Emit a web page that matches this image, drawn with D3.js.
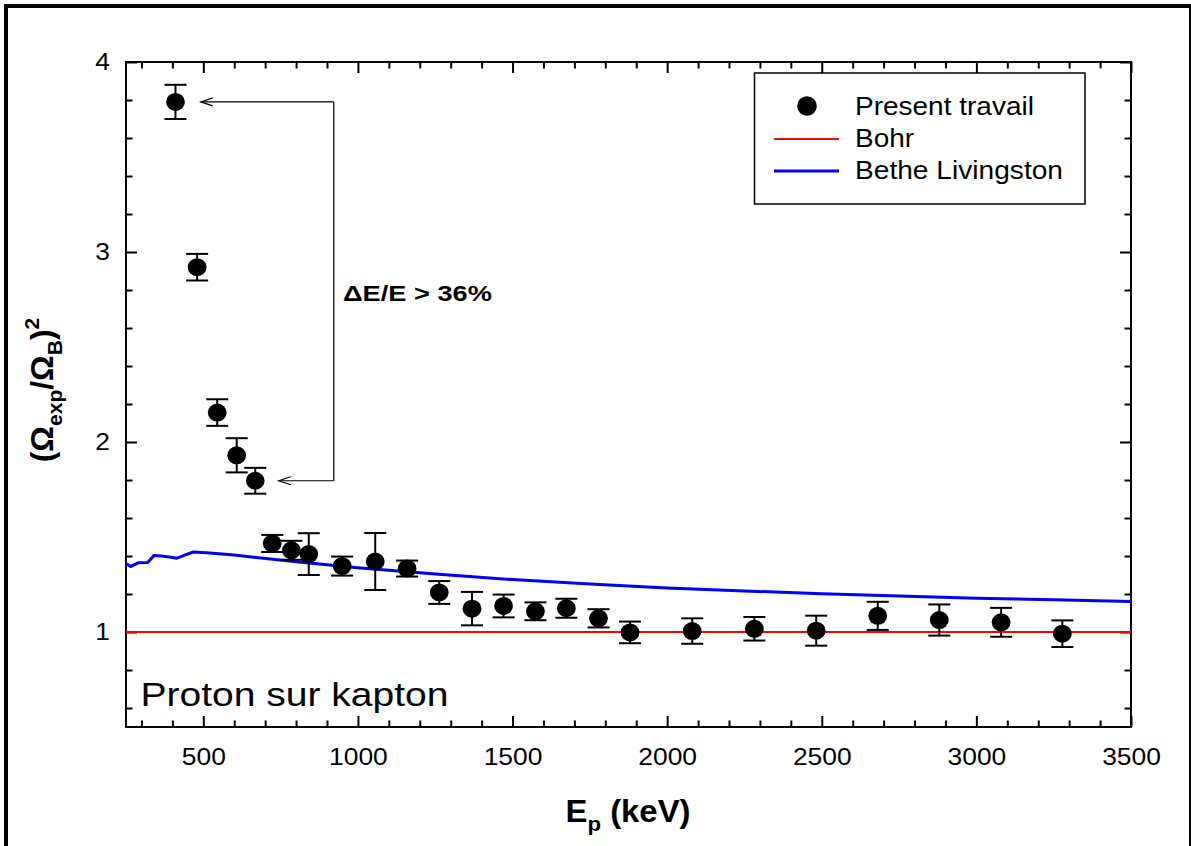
<!DOCTYPE html>
<html>
<head>
<meta charset="utf-8">
<script src="https://cdn.jsdelivr.net/npm/d3@7/dist/d3.min.js"></script>
<style>
  html, body { margin: 0; padding: 0; background: #fff; }
  svg { display: block; font-family: "Liberation Sans", Arial, Helvetica, sans-serif; }
</style>
</head>
<body>
<svg id="chart" width="1191" height="846"></svg>
<script>
// ---------- data ----------
const energy = [410, 480, 545, 608, 668, 723, 785, 841, 949, 1056, 1159, 1263, 1369, 1471, 1574, 1674, 1778, 1880, 2081, 2282, 2482, 2681, 2880, 3080, 3278];
const ratio  = [3.79, 2.92, 2.155, 1.93, 1.796, 1.466, 1.43, 1.41, 1.347, 1.371, 1.334, 1.208, 1.123, 1.137, 1.109, 1.125, 1.072, 0.998, 1.005, 1.017, 1.007, 1.085, 1.063, 1.051, 0.991];
const errs   = [0.09, 0.07, 0.07, 0.09, 0.068, 0.045, 0.05, 0.11, 0.05, 0.15, 0.042, 0.06, 0.088, 0.06, 0.047, 0.05, 0.048, 0.057, 0.067, 0.062, 0.079, 0.074, 0.082, 0.076, 0.07];

const betheE = [250, 265, 290, 320, 340, 365, 390, 414, 440, 467, 510, 600, 800, 1000, 1250, 1500, 1750, 2000, 2250, 2500, 2750, 3000, 3250, 3500];
const betheV = [1.36, 1.345, 1.364, 1.366, 1.402, 1.40, 1.395, 1.388, 1.405, 1.421, 1.417, 1.405, 1.37, 1.338, 1.305, 1.276, 1.252, 1.232, 1.216, 1.201, 1.19, 1.178, 1.17, 1.16];

const bohrE = [250, 3500];
const bohrV = [1, 1];

const xMajor = [500, 1000, 1500, 2000, 2500, 3000, 3500];
const xMinor = d3.range(300, 3500, 100).filter(v => v % 500 !== 0);
const yMajor = [1, 2, 3, 4];
const yMinor = [0.6, 0.8, 1.2, 1.4, 1.6, 1.8, 2.2, 2.4, 2.6, 2.8, 3.2, 3.4, 3.6, 3.8];

const legendLabels = ["Present travail", "Bohr", "Bethe Livingston"];
const annotationText = "\u0394E/E > 36%";
const panelText = "Proton sur kapton";
// annotation anchor values (data units)
const arrowTopY = 3.79, arrowBotY = 1.796, arrowTipTop = 492, arrowTipBot = 744, arrowX = 922;

// ---------- layout ----------
const svg = d3.select("#chart");
const L = 126, R = 1131, T = 62, B = 727;
const x = d3.scaleLinear().domain([250, 3500]).range([L, R]);
const y = d3.scaleLinear().domain([0.5, 4]).range([B, T]);

// outer border
svg.append("rect").attr("x", 6).attr("y", 6).attr("width", 1185).attr("height", 900)
  .attr("fill", "none").attr("stroke", "#000").attr("stroke-width", 4);

// clip
svg.append("clipPath").attr("id", "clip").append("rect")
  .attr("x", L).attr("y", T).attr("width", R - L).attr("height", B - T);

function styleAxis(g) {
  g.select(".domain").remove();
  g.selectAll(".tick line").attr("stroke", "#000").attr("stroke-width", 2);
}

// axes: major + minor, all four sides, inward ticks
const gxb = svg.append("g").attr("transform", `translate(0,${B})`)
  .call(d3.axisBottom(x).tickValues(xMajor).tickSize(-11).tickPadding(21).tickFormat(d3.format("d")));
styleAxis(gxb);
gxb.selectAll("text").attr("font-size", 24).attr("fill", "#000")
  .attr("font-family", "Liberation Sans, Arial, sans-serif")
  .attr("transform", "scale(1.1,1)");

const gxbm = svg.append("g").attr("transform", `translate(0,${B})`)
  .call(d3.axisBottom(x).tickValues(xMinor).tickSize(-6.5).tickFormat(""));
styleAxis(gxbm);

const gxt = svg.append("g").attr("transform", `translate(0,${T})`)
  .call(d3.axisTop(x).tickValues(xMajor).tickSize(-11).tickFormat(""));
styleAxis(gxt);
const gxtm = svg.append("g").attr("transform", `translate(0,${T})`)
  .call(d3.axisTop(x).tickValues(xMinor).tickSize(-6.5).tickFormat(""));
styleAxis(gxtm);

const gyl = svg.append("g").attr("transform", `translate(${L},0)`)
  .call(d3.axisLeft(y).tickValues(yMajor).tickSize(-11).tickPadding(16).tickFormat(d3.format("d")));
styleAxis(gyl);
gyl.selectAll("text").attr("font-size", 24).attr("fill", "#000")
  .attr("font-family", "Liberation Sans, Arial, sans-serif")
  .attr("x", 0).attr("transform", "translate(-16,0) scale(1.1,1)");

const gylm = svg.append("g").attr("transform", `translate(${L},0)`)
  .call(d3.axisLeft(y).tickValues(yMinor).tickSize(-6.5).tickFormat(""));
styleAxis(gylm);
const gyr = svg.append("g").attr("transform", `translate(${R},0)`)
  .call(d3.axisRight(y).tickValues(yMajor).tickSize(-11).tickFormat(""));
styleAxis(gyr);
const gyrm = svg.append("g").attr("transform", `translate(${R},0)`)
  .call(d3.axisRight(y).tickValues(yMinor).tickSize(-6.5).tickFormat(""));
styleAxis(gyrm);

// frame
svg.append("rect").attr("x", L).attr("y", T).attr("width", R - L).attr("height", B - T)
  .attr("fill", "none").attr("stroke", "#000").attr("stroke-width", 2);

// lines
const plot = svg.append("g").attr("clip-path", "url(#clip)");
const line = d3.line().x(d => x(d[0])).y(d => y(d[1]));
plot.append("path").datum(bohrE.map((e, i) => [e, bohrV[i]]))
  .attr("d", line).attr("fill", "none").attr("stroke", "#ff0000").attr("stroke-width", 2);
plot.append("path").datum(betheE.map((e, i) => [e, betheV[i]]))
  .attr("d", line).attr("fill", "none").attr("stroke", "#0000ff").attr("stroke-width", 3);

// error bars + points
const pts = energy.map((e, i) => ({ e, v: ratio[i], err: errs[i] }));
const eb = svg.append("g").attr("stroke", "#000").attr("stroke-width", 2);
pts.forEach(p => {
  eb.append("line").attr("x1", x(p.e)).attr("x2", x(p.e)).attr("y1", y(p.v - p.err)).attr("y2", y(p.v + p.err));
  eb.append("line").attr("x1", x(p.e) - 11).attr("x2", x(p.e) + 11).attr("y1", y(p.v + p.err)).attr("y2", y(p.v + p.err));
  eb.append("line").attr("x1", x(p.e) - 11).attr("x2", x(p.e) + 11).attr("y1", y(p.v - p.err)).attr("y2", y(p.v - p.err));
});
svg.append("g").selectAll("ellipse").data(pts).join("ellipse")
  .attr("cx", d => x(d.e)).attr("cy", d => y(d.v)).attr("rx", 9.4).attr("ry", 9)
  .attr("fill", "#000");

// annotation arrows
const ann = svg.append("g").attr("stroke", "#000").attr("stroke-width", 1.2).attr("fill", "none");
ann.append("line").attr("x1", x(arrowX)).attr("x2", x(arrowX)).attr("y1", y(arrowTopY)).attr("y2", y(arrowBotY));
ann.append("line").attr("x1", x(arrowX)).attr("x2", x(arrowTipTop)).attr("y1", y(arrowTopY)).attr("y2", y(arrowTopY));
ann.append("line").attr("x1", x(arrowX)).attr("x2", x(arrowTipBot)).attr("y1", y(arrowBotY)).attr("y2", y(arrowBotY));
function head(tx, ty) {
  ann.append("path").attr("d", `M${tx + 12},${ty - 4}L${tx},${ty}L${tx + 12},${ty + 4}`);
}
head(x(arrowTipTop), y(arrowTopY));
head(x(arrowTipBot), y(arrowBotY));

// fitted text helper (stretch horizontally to target width)
function fitText(parent, xPos, yPos, txt, size, weight, targetW, anchor) {
  const t = parent.append("text").attr("x", 0).attr("y", 0)
    .attr("font-size", size).attr("font-weight", weight || "normal")
    .attr("text-anchor", anchor || "start").attr("fill", "#000").text(txt);
  const w = t.node().getComputedTextLength();
  const s = targetW ? targetW / w : 1.12;
  t.attr("transform", `translate(${xPos},${yPos}) scale(${s},1)`);
  return t;
}

fitText(svg, 343, 301, annotationText, 22, "bold", 149);
fitText(svg, 140.5, 706, panelText, 33, "normal", 308);

// legend
const lg = svg.append("g");
lg.append("rect").attr("x", 754.5).attr("y", 73).attr("width", 330.5).attr("height", 131)
  .attr("fill", "#fff").attr("stroke", "#000").attr("stroke-width", 1.5);
lg.append("circle").attr("cx", 807).attr("cy", 106).attr("r", 9.8).attr("fill", "#000");
lg.append("line").attr("x1", 774).attr("x2", 839).attr("y1", 139).attr("y2", 139).attr("stroke", "#ff0000").attr("stroke-width", 2);
lg.append("line").attr("x1", 774).attr("x2", 839).attr("y1", 171).attr("y2", 171).attr("stroke", "#0000ff").attr("stroke-width", 3);
fitText(lg, 855, 115, legendLabels[0], 25, "normal", 179);
fitText(lg, 855, 147, legendLabels[1], 25, "normal", null);
fitText(lg, 855, 179, legendLabels[2], 25, "normal", 208);

// x axis title
const xt = svg.append("text").attr("text-anchor", "middle").attr("font-weight", "bold")
  .attr("font-size", 31).attr("fill", "#000")
  .attr("transform", "translate(628,822) scale(1.06,1)");
xt.append("tspan").text("E");
xt.append("tspan").attr("font-size", 21).attr("dy", 9).text("p");
xt.append("tspan").attr("dy", -9).text(" (keV)");

// y axis title
const yt = svg.append("text").attr("text-anchor", "middle").attr("font-weight", "bold")
  .attr("font-size", 32).attr("fill", "#000")
  .attr("transform", "translate(53,390) rotate(-90)");
yt.append("tspan").text("(\u03A9");
yt.append("tspan").attr("font-size", 21).attr("dy", 9).text("exp");
yt.append("tspan").attr("dy", -9).text("/\u03A9");
yt.append("tspan").attr("font-size", 21).attr("dy", 9).text("B");
yt.append("tspan").attr("dy", -9).text(")");
yt.append("tspan").attr("font-size", 21).attr("dy", -14).text("2");
</script>
</body>
</html>
